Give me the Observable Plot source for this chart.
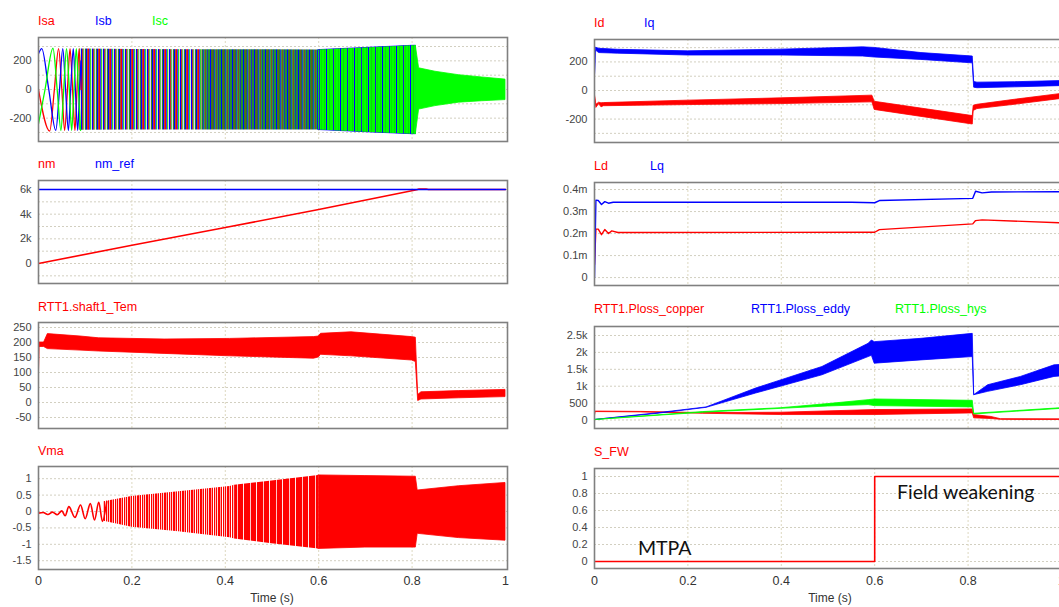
<!DOCTYPE html>
<html>
<head>
<meta charset="utf-8">
<script src="https://cdn.jsdelivr.net/npm/d3@7"></script>
<script src="https://cdn.jsdelivr.net/npm/@observablehq/plot@0.6"></script>
<style>
html,body{margin:0;padding:0;background:#fff;}
body{width:1059px;height:607px;overflow:hidden;position:relative;font-family:"Liberation Sans",Arial,sans-serif;}
#root{position:absolute;left:0;top:0;width:1059px;height:607px;overflow:hidden;}
.lbl{position:absolute;font-size:12.5px;line-height:14px;white-space:nowrap;z-index:5;}
.ax{position:absolute;font-size:12px;line-height:13px;color:#333;white-space:nowrap;transform:translateX(-50%);z-index:5;}
.ann{position:absolute;font-family:Lato,"Open Sans",sans-serif;font-size:19.5px;line-height:22px;color:#111;white-space:nowrap;z-index:5;}
</style>
</head>
<body>
<div id="root"></div>
<script>
// ---------------- data ----------------
const xTicks = [0, 0.2, 0.4, 0.6, 0.8, 1];
const xGrid = [0.2, 0.4, 0.6, 0.8];

// Panel L1: Isa / Isb / Isc  (early visible cycles, then envelope)
const isaEarly = [[0,0],[0.024,-290],[0.034,0],[0.043,285],[0.050,0],[0.056,-285],[0.062,0],[0.0675,285],[0.073,0],[0.078,-285],[0.0825,0],[0.087,285],[0.091,0]];
const isbEarly = [[0,250],[0.007,285],[0.022,0],[0.037,-285],[0.045,0],[0.052,285],[0.058,0],[0.064,-285],[0.069,0],[0.0745,285],[0.079,0],[0.084,-285],[0.088,0],[0.091,200]];
const iscEarly = [[0,-240],[0.014,0],[0.031,288],[0.040,0],[0.048,-285],[0.054,0],[0.060,285],[0.066,0],[0.071,-285],[0.076,0],[0.081,285],[0.0855,0],[0.090,-285]];
const iEnvT  = [0.088, 0.2, 0.35, 0.5, 0.6, 0.7, 0.8, 0.808, 0.815, 0.85, 0.9, 0.95, 1.0];
const iEnvHi = [282, 280, 278, 277, 275, 290, 305, 305, 148, 124, 100, 84, 69];
const iEnvLo = [-285, -283, -282, -282, -283, -298, -312, -312, -140, -116, -92, -82, -74];

// Panel L2: nm / nm_ref
const nm    = [[0,0],[0.2,1480],[0.4,2920],[0.6,4380],[0.81,5980],[0.815,6040],[0.83,6040],[0.835,6000],[1.0,6000]];
const nmRef = [[0,6000],[1.0,6000]];

// Panel L3: RTT1.shaft1_Tem envelope
const temT  = [0, 0.002, 0.012, 0.02, 0.09, 0.13, 0.27, 0.41, 0.59, 0.6, 0.605, 0.67, 0.8, 0.808, 0.813, 0.82, 0.9, 1.0];
const temHi = [0, 200, 200, 228, 220, 214, 210, 212, 218, 220, 229, 234, 218, 216, 25, 34, 38, 42];
const temLo = [0, 185, 185, 178, 173, 170, 162, 154, 146, 150, 159, 154, 140, 135, 5, 10, 14, 18];

// Panel L4: Vma
const vmaEarly = [[0,-0.05],[0.01,-0.03],[0.02,-0.09],[0.03,-0.02],[0.04,-0.1],[0.05,0.02],[0.057,-0.13],[0.065,0.15],[0.078,-0.18],[0.09,0.2],[0.1,-0.22],[0.111,0.24],[0.12,-0.26],[0.129,0.28],[0.137,-0.3],[0.146,0.3]];
const vmaT  = [0.14, 0.2, 0.3, 0.41, 0.42, 0.5, 0.6, 0.7, 0.808, 0.812, 0.9, 1.0];
const vmaHi = [0.3, 0.46, 0.6, 0.76, 0.8, 0.93, 1.1, 1.08, 1.06, 0.64, 0.77, 0.87];
const vmaLo = [-0.3, -0.48, -0.62, -0.8, -0.84, -0.98, -1.14, -1.1, -1.1, -0.68, -0.81, -0.89];

// Panel R1: Id / Iq envelopes
const iqT  = [0, 0.003, 0.01, 0.05, 0.2, 0.4, 0.575, 0.6, 0.7, 0.81, 0.813, 0.82, 0.9, 1.0];
const iqHi = [0, 300, 292, 285, 274, 286, 302, 298, 262, 238, 60, 55, 58, 66];
const iqLo = [0, 280, 262, 258, 245, 245, 238, 231, 214, 190, 20, 16, 22, 31];
const idT  = [0, 0.004, 0.01, 0.015, 0.02, 0.2, 0.4, 0.595, 0.6, 0.81, 0.812, 0.82, 0.9, 1.0];
const idHi = [-10, -100, -85, -90, -88, -71, -55, -36, -79, -179, -107, -100, -65, -24];
const idLo = [-15, -122, -95, -118, -110, -102, -95, -83, -136, -238, -143, -130, -100, -59];

// Panel R2: Ld / Lq (mH)
const lq = [[0,0],[0.003,0.352],[0.008,0.35],[0.015,0.332],[0.022,0.345],[0.03,0.338],[0.04,0.342],[0.55,0.342],[0.6,0.34],[0.61,0.35],[0.81,0.36],[0.816,0.392],[0.83,0.385],[0.85,0.389],[1.0,0.39]];
const ld = [[0,0.06],[0.003,0.22],[0.008,0.22],[0.015,0.195],[0.022,0.218],[0.03,0.2],[0.037,0.212],[0.05,0.205],[0.6,0.206],[0.61,0.218],[0.81,0.244],[0.816,0.259],[0.83,0.262],[1.0,0.249]];

// Panel R3: losses
const copT  = [0, 0.002, 0.1, 0.232, 0.4, 0.6, 0.81, 0.813, 0.85, 0.87, 1.0];
const copHi = [0, 250, 240, 205, 216, 294, 314, 147, 90, 25, 20];
const copLo = [0, 235, 225, 185, 147, 147, 196, 49, 30, 5, 0];
const eddyT  = [0, 0.133, 0.24, 0.346, 0.488, 0.587, 0.594, 0.6, 0.7, 0.81, 0.813, 0.843, 0.913, 0.985, 1.0];
const eddyHi = [0, 196, 372, 931, 1568, 2254, 2352, 2303, 2401, 2548, 735, 1029, 1274, 1617, 1630];
const eddyLo = [0, 180, 360, 784, 1323, 1862, 1900, 1666, 1764, 1862, 735, 833, 1029, 1274, 1290];
const hysT  = [0, 0.232, 0.4, 0.5, 0.587, 0.6, 0.81, 0.813, 1.0];
const hysHi = [0, 235, 350, 470, 588, 608, 568, 185, 350];
const hysLo = [0, 215, 330, 400, 441, 412, 372, 165, 330];

// Panel R4: S_FW
const sfw = [[0,0],[0.6,0],[0.6,1],[1.0,1]];

// ---------------- drawing ----------------
const RED = "#ff0000", BLUE = "#0000ff", GREEN = "#00ff00";
const root = document.getElementById("root");
const toBand = (T, H, L) => T.map((t, i) => ({t, hi: H[i], lo: L[i]}));

// stripe patterns imitating densely overlapped waveforms
function patterns(list) {
  return () => {
    const ns = "http://www.w3.org/2000/svg";
    const defs = document.createElementNS(ns, "defs");
    for (const [id, colors] of list) {
      const pat = document.createElementNS(ns, "pattern");
      pat.setAttribute("id", id);
      pat.setAttribute("patternUnits", "userSpaceOnUse");
      pat.setAttribute("width", colors.length);
      pat.setAttribute("height", 20);
      colors.forEach((c, i) => {
        const r = document.createElementNS(ns, "rect");
        r.setAttribute("x", i); r.setAttribute("y", 0);
        r.setAttribute("width", 1); r.setAttribute("height", 20);
        r.setAttribute("fill", c);
        pat.appendChild(r);
      });
      defs.appendChild(pat);
    }
    return defs;
  };
}

function band(data, fill, opacity, t0 = -1, t1 = 2, stroke = true) {
  return Plot.areaY(data.filter(d => d.t >= t0 && d.t <= t1), {
    x: "t", y1: "lo", y2: "hi", fill, fillOpacity: opacity,
    stroke: stroke ? fill : "none", strokeOpacity: opacity, strokeWidth: 0.8, clip: true
  });
}
function line(data, stroke, w = 1.3, curve = "linear") {
  return Plot.line(data, {x: d => d[0], y: d => d[1], stroke, strokeWidth: w, curve, clip: true});
}

function panel(cfg) {
  const mt = 1, mb = cfg.xAxis ? 24 : 1;
  const h = cfg.frameBottom - cfg.frameTop + mt + mb;
  const p = Plot.plot({
    width: 512, height: h,
    marginLeft: 38, marginRight: 5, marginTop: mt, marginBottom: mb,
    x: {domain: [0, 1.0043], axis: null},
    y: {domain: cfg.yDomain, axis: null},
    style: {background: "transparent", overflow: "visible", fontFamily: '"Liberation Sans", Arial, sans-serif', color: "#444"},
    marks: [
      cfg.defs ? patterns(cfg.defs) : null,
      Plot.ruleY(cfg.yGrid, {stroke: "#d2cfc0", strokeDasharray: "2,2", strokeWidth: 1}),
      Plot.ruleX(xGrid, {stroke: "#ddd8c0", strokeDasharray: "2,2", strokeWidth: 1}),
      ...cfg.marks,
      Plot.frame({stroke: "#808080", strokeWidth: 1.6}),
      Plot.axisY({ticks: cfg.yTicks, tickSize: 0, tickPadding: 7, tickFormat: cfg.yFmt, fontSize: 11, label: null}),
      cfg.xAxis ? Plot.axisX({ticks: xTicks, tickSize: 0, tickPadding: cfg.xPad, tickFormat: d => String(d), fontSize: 12.5, label: null, fill: "#333"}) : null
    ]
  });
  p.style.position = "absolute";
  p.style.left = cfg.left + "px";
  p.style.top = (cfg.frameTop - mt) + "px";
  p.style.maxWidth = "none";
  root.appendChild(p);
}

const str = d => String(d);
const iBand = toBand(iEnvT, iEnvHi, iEnvLo);

// L1
panel({left: 0, frameTop: 37, frameBottom: 141, yDomain: [-363, 363],
  yTicks: [-200, 0, 200], yGrid: [-300, -200, -100, 0, 100, 200, 300], yFmt: str,
  defs: [
    ["stripeA", [RED, "#3a3aff", "#2ed82e", "#cfe9cf", BLUE, "#c03030", "#5ad05a", "#e6d2e6", "#2a8a2a", BLUE, "#b04a30"]],
    ["stripeB", ["#129a34", BLUE, "#238c23", "#6e5a16", "#1a7a3a", "#2244cc", "#3aa03a", "#805020", "#20a040", "#1a3ab0", "#2c8c2c"]],
    ["stripeC", [GREEN, GREEN, "#00e000", GREEN, BLUE, GREEN, GREEN, "#10d010", GREEN, GREEN, GREEN, "#2020d0", GREEN, "#00ea00"]]
  ],
  marks: [
    band(iBand, "url(#stripeA)", 1, 0.088, 0.35, false),
    band(iBand, "url(#stripeB)", 1, 0.35, 0.6, false),
    band(iBand, BLUE, 1, 0.6, 0.808),
    band(iBand, "url(#stripeC)", 1, 0.6, 0.808, false),
    band(iBand, GREEN, 1, 0.808, 1.0),
    line(isaEarly, RED, 1.3, "monotone-x"),
    line(isbEarly, BLUE, 1.3, "monotone-x"),
    line(iscEarly, GREEN, 1.3, "monotone-x")
  ]});

// L2
panel({left: 0, frameTop: 180, frameBottom: 283, yDomain: [-1622, 6730],
  yTicks: [0, 2000, 4000, 6000], yGrid: [-1000, 0, 1000, 2000, 3000, 4000, 5000, 6000],
  yFmt: d => d === 0 ? "0" : (d / 1000) + "k",
  marks: [line(nm, RED, 1.6), line(nmRef, BLUE, 1.6)]});

// L3
panel({left: 0, frameTop: 322, frameBottom: 428, yDomain: [-86.7, 266.7],
  yTicks: [-50, 0, 50, 100, 150, 200, 250], yGrid: [-50, 0, 50, 100, 150, 200, 250], yFmt: str,
  marks: [band(toBand(temT, temHi, temLo), RED, 1)]});

// L4
const vBand = toBand(vmaT, vmaHi, vmaLo);
panel({left: 0, frameTop: 466, frameBottom: 569, yDomain: [-1.768, 1.372],
  yTicks: [-1.5, -1, -0.5, 0, 0.5, 1], yGrid: [-1.5, -1, -0.5, 0, 0.5, 1], yFmt: str,
  xAxis: true, xPad: 7,
  defs: [
    ["stripeV1", [RED, "#ffd6d6", RED, RED, "#ff9a9a", RED, "#ffffff", RED, "#ffc0c0"]],
    ["stripeV2", [RED, RED, RED, "#ffc4c4", RED, RED, RED, RED, RED, "#ffe8e8", RED, RED, RED]]
  ],
  marks: [
    band(vBand, "url(#stripeV1)", 1, 0.14, 0.42, false),
    band(vBand, "url(#stripeV2)", 1, 0.42, 0.6, false),
    band(vBand, RED, 1, 0.6, 1.0),
    line(vmaEarly, RED, 1.6, "monotone-x")
  ]});

// R1
panel({left: 556, frameTop: 39, frameBottom: 142, yDomain: [-364, 357],
  yTicks: [-200, 0, 200], yGrid: [-300, -200, -100, 0, 100, 200, 300], yFmt: str,
  marks: [band(toBand(idT, idHi, idLo), RED, 1), band(toBand(iqT, iqHi, iqLo), BLUE, 1)]});

// R2
panel({left: 556, frameTop: 182, frameBottom: 285, yDomain: [-0.036, 0.432],
  yTicks: [0, 0.1, 0.2, 0.3, 0.4], yGrid: [0, 0.1, 0.2, 0.3, 0.4],
  yFmt: d => d === 0 ? "0" : d + "m",
  marks: [line(ld, RED, 1.4), line(lq, BLUE, 1.4)]});

// R3
panel({left: 556, frameTop: 326, frameBottom: 428, yDomain: [-251, 2766],
  yTicks: [0, 500, 1000, 1500, 2000, 2500], yGrid: [0, 500, 1000, 1500, 2000, 2500],
  yFmt: d => d === 0 ? "0" : d < 1000 ? String(d) : (d / 1000) + "k",
  marks: [
    band(toBand(copT, copHi, copLo), RED, 1),
    band(toBand(eddyT, eddyHi, eddyLo), BLUE, 1),
    band(toBand(hysT, hysHi, hysLo), GREEN, 1)
  ]});

// R4
panel({left: 556, frameTop: 468, frameBottom: 568, yDomain: [-0.082, 1.094],
  yTicks: [0, 0.2, 0.4, 0.6, 0.8, 1], yGrid: [0, 0.2, 0.4, 0.6, 0.8, 1], yFmt: str,
  xAxis: true, xPad: 8,
  marks: [line(sfw, RED, 1.6)]});

// ---------------- labels ----------------
const labels = [
  ["Isa", 38, 14, RED], ["Isb", 95, 14, BLUE], ["Isc", 152, 14, GREEN],
  ["nm", 38, 157, RED], ["nm_ref", 95, 157, BLUE],
  ["RTT1.shaft1_Tem", 38, 300, RED],
  ["Vma", 38, 444, RED],
  ["Id", 594, 16, RED], ["Iq", 644, 16, BLUE],
  ["Ld", 594, 159, RED], ["Lq", 650, 159, BLUE],
  ["RTT1.Ploss_copper", 594, 302, RED], ["RTT1.Ploss_eddy", 751, 302, BLUE], ["RTT1.Ploss_hys", 895, 302, GREEN],
  ["S_FW", 594, 445, RED]
];
for (const [txt, x, y, c] of labels) {
  const d = document.createElement("div");
  d.className = "lbl"; d.textContent = txt;
  d.style.left = x + "px"; d.style.top = y + "px"; d.style.color = c;
  root.appendChild(d);
}
for (const [txt, x, y] of [["Time (s)", 272, 592], ["Time (s)", 830, 592]]) {
  const d = document.createElement("div");
  d.className = "ax"; d.textContent = txt;
  d.style.left = x + "px"; d.style.top = y + "px";
  root.appendChild(d);
}
for (const [txt, x, y] of [["MTPA", 638, 537], ["Field weakening", 897, 481]]) {
  const d = document.createElement("div");
  d.className = "ann"; d.textContent = txt;
  d.style.left = x + "px"; d.style.top = y + "px";
  root.appendChild(d);
}
</script>
</body>
</html>
